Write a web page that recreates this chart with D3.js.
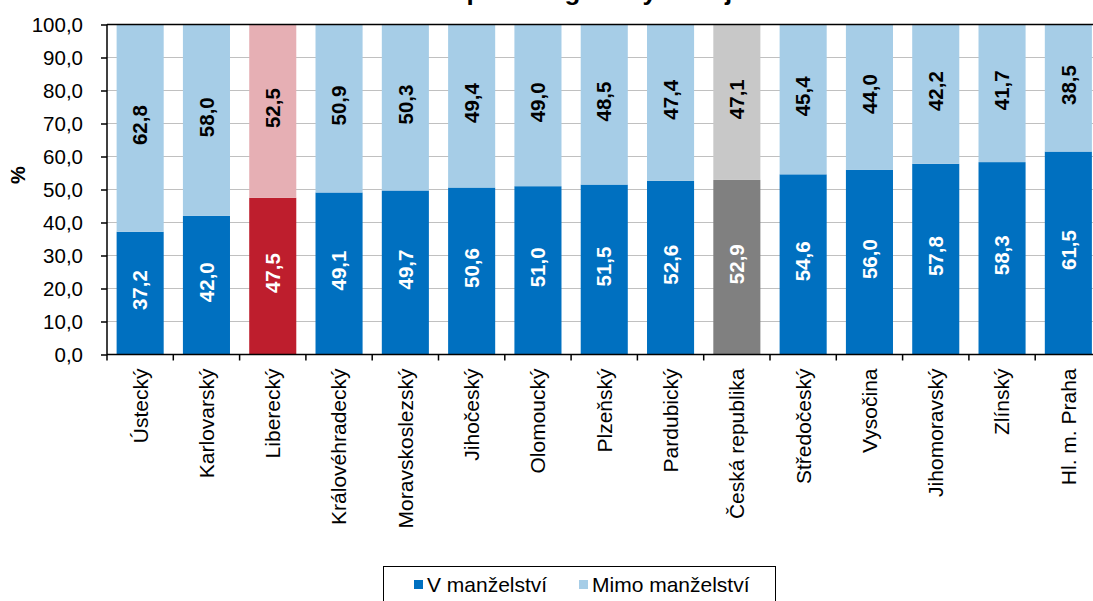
<!DOCTYPE html>
<html><head><meta charset="utf-8">
<script src="https://cdn.jsdelivr.net/npm/d3@7"></script>
<style>
html,body{margin:0;padding:0;background:#fff;}
svg{display:block;font-family:"Liberation Sans",Arial,sans-serif;}
</style></head>
<body><svg id="chart" width="1093" height="601"></svg>
<script>
const categories = ["Ústecký","Karlovarský","Liberecký","Královéhradecký","Moravskoslezský","Jihočeský","Olomoucký","Plzeňský","Pardubický","Česká republika","Středočeský","Vysočina","Jihomoravský","Zlínský","Hl. m. Praha"];
const inMarriage = [37.2,42.0,47.5,49.1,49.7,50.6,51.0,51.5,52.6,52.9,54.6,56.0,57.8,58.3,61.5];
const outMarriage = [62.8,58.0,52.5,50.9,50.3,49.4,49.0,48.5,47.4,47.1,45.4,44.0,42.2,41.7,38.5];
const yTicks = [0,10,20,30,40,50,60,70,80,90,100];
const seriesNames = ["V manželství","Mimo manželství"];
const titleText = "Živě narození podle legitimity v krajích";

const colDark = "#0070C0", colLight = "#A6CDE7";
const special = {"Liberecký":["#BE1E2D","#E6AFB4"],"Česká republika":["#808080","#C8C8C8"]};
const fmt = v => d3.format(".1f")(v).replace(".", ",");

const svg = d3.select("#chart");
const L = 107, T = 24.5, B = 354.5;
const x = d3.scaleBand().domain(categories).range([L, L + 15*66.3]).paddingInner(0.29).paddingOuter(0.145);
const y = d3.scaleLinear().domain([0,100]).range([B, T]);

// title (mostly outside the visible area, as in the reference)
svg.append("text").attr("x", 293).attr("y", 0).attr("font-size", 26).attr("font-weight", "bold")
  .attr("fill", "#000").text(titleText);

// gridlines
svg.append("g").selectAll("line").data(yTicks.filter(d => d > 0 && d < 100)).join("line")
  .attr("x1", L).attr("x2", 1093).attr("y1", d => y(d)).attr("y2", d => y(d))
  .attr("stroke", "#C0C0C0").attr("stroke-width", 1);

const data = categories.map((c,i) => ({c, a: inMarriage[i], b: outMarriage[i]}));
const g = svg.append("g");
g.selectAll("rect.a").data(data).join("rect").attr("class","a")
  .attr("x", d => x(d.c)).attr("width", x.bandwidth())
  .attr("y", d => y(d.a)).attr("height", d => y(0) - y(d.a))
  .attr("fill", d => special[d.c] ? special[d.c][0] : colDark);
g.selectAll("rect.b").data(data).join("rect").attr("class","b")
  .attr("x", d => x(d.c)).attr("width", x.bandwidth())
  .attr("y", d => y(d.a + d.b)).attr("height", d => y(d.a) - y(d.a + d.b))
  .attr("fill", d => special[d.c] ? special[d.c][1] : colLight);

// value labels
const lbl = svg.append("g").attr("font-size", 20.5).attr("font-weight", "bold").attr("text-anchor", "middle");
data.forEach(d => {
  const cx = x(d.c) + x.bandwidth()/2;
  lbl.append("text").attr("transform", `translate(${cx},${y(d.a/2) - 3}) rotate(-90)`).attr("dy", "0.35em")
    .attr("fill", "#fff").text(fmt(d.a));
  lbl.append("text").attr("transform", `translate(${cx},${y(d.a + d.b/2) - 3}) rotate(-90)`).attr("dy", "0.35em")
    .attr("fill", "#000").text(fmt(d.b));
});

// top border
svg.append("line").attr("x1", L).attr("x2", 1093).attr("y1", T).attr("y2", T).attr("stroke", "#000").attr("stroke-width", 1.5);

// y axis
const yAxis = svg.append("g").attr("transform", `translate(${L},0)`)
  .call(d3.axisLeft(y).tickValues(yTicks).tickFormat(fmt).tickSize(6).tickPadding(18));
yAxis.selectAll("text").attr("font-size", 20.5).attr("fill", "#000").attr("font-family", "Liberation Sans, Arial, sans-serif");
yAxis.selectAll("line,path").attr("stroke", "#000").attr("stroke-width", 1.5);
yAxis.select("path").attr("d", `M0,${B}V${T}`);

// x axis line and ticks at band boundaries
svg.append("line").attr("x1", L).attr("x2", 1093).attr("y1", B).attr("y2", B).attr("stroke", "#000").attr("stroke-width", 1.5);
svg.append("g").selectAll("line").data(d3.range(categories.length + 1)).join("line")
  .attr("x1", i => L + i*x.step()).attr("x2", i => L + i*x.step())
  .attr("y1", B).attr("y2", B + 6).attr("stroke", "#000").attr("stroke-width", 1.5);
svg.append("g").selectAll("text").data(categories).join("text")
  .attr("transform", c => `translate(${x(c) + x.bandwidth()/2},${B + 14}) rotate(-90)`)
  .attr("dy", "0.35em").attr("text-anchor", "end").attr("font-size", 21).attr("fill", "#000").text(c => c);

// y axis title
svg.append("text").attr("transform", "translate(18,175) rotate(-90)").attr("dy", "0.35em")
  .attr("text-anchor", "middle").attr("font-size", 20).attr("font-weight", "bold").text("%");

// legend
const lg = svg.append("g");
lg.append("rect").attr("x", 383.5).attr("y", 566.5).attr("width", 392).attr("height", 40)
  .attr("fill", "#fff").attr("stroke", "#000").attr("stroke-width", 1);
const legItems = [{n: seriesNames[0], c: colDark, x: 414}, {n: seriesNames[1], c: colLight, x: 579}];
legItems.forEach(it => {
  lg.append("rect").attr("x", it.x).attr("y", 580).attr("width", 9).attr("height", 9).attr("fill", it.c);
  lg.append("text").attr("x", it.x + 13).attr("y", 592).attr("font-size", 21).attr("fill", "#000").text(it.n);
});
</script></body></html>
